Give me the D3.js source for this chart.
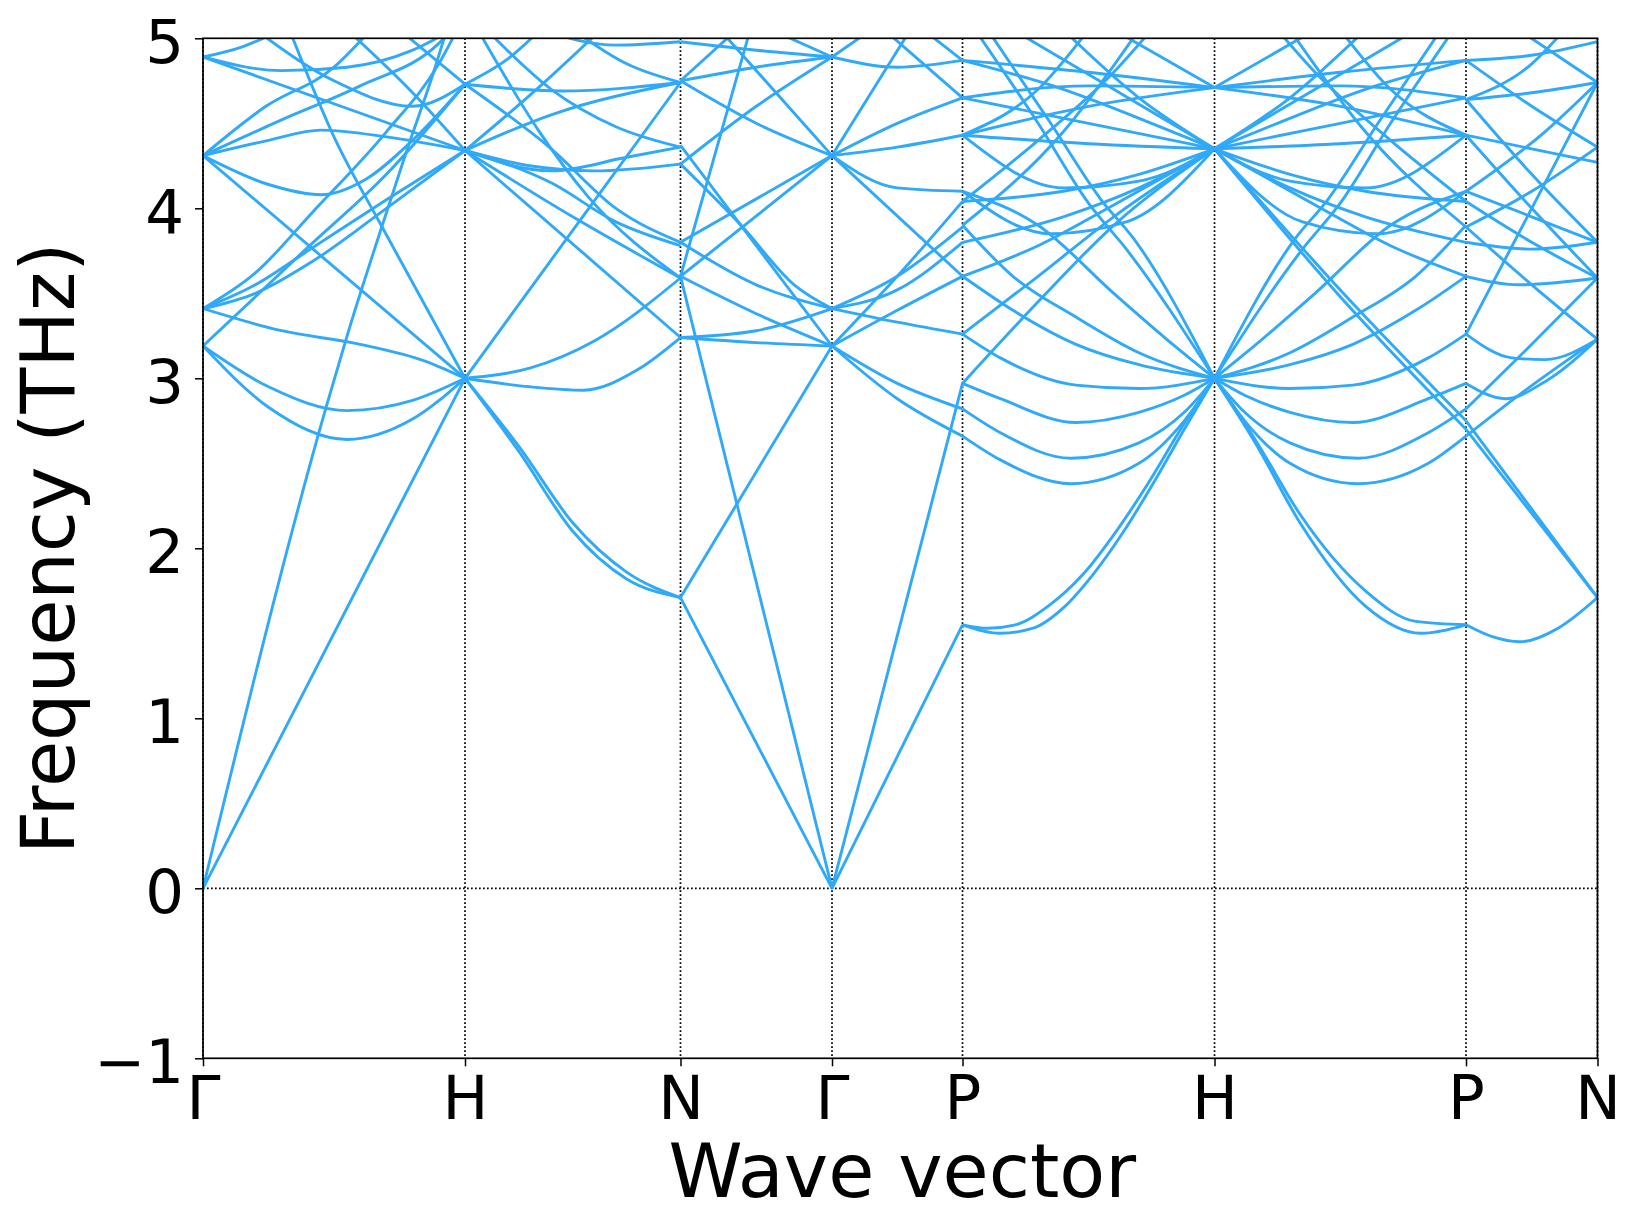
<!DOCTYPE html>
<html><head><meta charset="utf-8">
<script src="https://cdn.jsdelivr.net/npm/d3@7"></script>
<style>body{margin:0;background:#fff} text{font-family:"DejaVu Sans",sans-serif;fill:#000}</style>
</head><body><svg id="c" width="1637" height="1229"></svg>
<script>
// High-symmetry points (labels and path positions)
const kLabels = ["Γ","H","N","Γ","P","H","P","N"];
const kPos = [0, 1.0, 1.8225, 2.4008, 2.8989, 3.8607, 4.8206, 5.3225];
const yTicks = [-1,0,1,2,3,4,5];

// Bands per path segment: each band = [t (fraction along segment), frequency THz]
const bandsGH = [
 [[0,0],[1,3.0]],
 [[0,0],[0.47,2.83],[0.55,3.25],[0.68,3.88],[0.78,4.35],[0.88,4.8],[0.93,5.05]],
 [[0.33,5.05],[0.5,4.42],[0.68,3.9],[1,3.0]],
 [[0,4.31],[1,3.0]],
 [[0,3.41],[0.3,3.28],[0.6,3.2],[0.85,3.1],[1,3.0]],
 [[0,3.19],[0.25,2.83],[0.55,2.64],[0.8,2.76],[1,3.0]],
 [[0,3.19],[0.25,2.95],[0.55,2.81],[0.8,2.87],[1,3.0]],
 [[0,3.19],[0.4,3.77],[0.7,4.2],[1,4.73]],
 [[0,3.41],[0.2,3.5],[0.42,3.69],[0.7,4.0],[1,4.34]],
 [[0,3.41],[0.2,3.55],[0.42,3.77],[0.7,4.05],[1,4.34]],
 [[0,3.41],[0.2,3.62],[0.42,3.98],[0.7,4.45],[0.9,4.85],[0.97,5.05]],
 [[0,4.31],[0.25,4.14],[0.45,4.08],[0.62,4.17],[0.8,4.4],[1,4.73]],
 [[0,4.31],[0.25,4.4],[0.45,4.46],[0.7,4.42],[1,4.34]],
 [[0,4.31],[0.24,4.6],[0.5,4.83],[0.64,5.05]],
 [[0,4.31],[0.3,4.52],[0.6,4.72],[0.9,4.97],[0.95,5.05]],
 [[0,4.89],[1,4.34]],
 [[0,4.89],[0.3,4.81],[0.55,4.83],[0.8,4.93],[0.95,5.05]],
 [[0,4.89],[0.15,4.95],[0.3,5.05]],
 [[0.55,5.05],[0.8,4.68],[1,4.34]],
 [[0.75,5.05],[1,4.73]],
 [[0.2,5.05],[0.5,4.75],[0.8,4.6],[1,4.73]]
];
const bandsHN = [
 [[0,3.0],[0.25,2.6],[0.5,2.15],[0.75,1.86],[1,1.71]],
 [[0,3.0],[0.25,2.57],[0.5,2.1],[0.75,1.82],[1,1.71]],
 [[0,3.0],[0.3,2.95],[0.55,2.93],[0.8,3.05],[1,3.24]],
 [[0,3.0],[0.3,3.06],[0.6,3.22],[1,3.59]],
 [[0,3.0],[0.5,3.87],[1,4.74]],
 [[0,4.34],[1,3.24]],
 [[0,4.34],[0.5,3.95],[1,3.59]],
 [[0,4.34],[0.4,4.15],[0.7,3.92],[1,3.78]],
 [[0,4.34],[0.3,4.25],[0.6,4.22],[1,4.26]],
 [[0,4.34],[0.4,4.22],[0.75,4.3],[1,4.36]],
 [[0,4.34],[0.4,4.55],[1,4.74]],
 [[0,4.34],[0.35,4.72],[0.63,5.05]],
 [[0,4.73],[0.45,4.69],[1,4.74]],
 [[0,4.73],[0.4,4.35],[0.7,4.0],[1,3.8]],
 [[0.06,5.05],[0.34,4.46],[0.57,4.07],[1,3.59]],
 [[0,4.73],[0.2,4.88],[0.35,5.05]],
 [[0.5,5.05],[0.75,4.85],[1,4.74]],
 [[0.35,5.05],[0.7,4.96],[1,4.98]],
 [[0.1,5.05],[0.4,4.7],[0.7,4.48],[1,4.36]]
];
const bandsNG = [
 [[0,1.71],[1,0]],
 [[0,1.71],[1,3.19]],
 [[0,3.6],[1,0]],
 [[0,3.6],[0.46,5.05]],
 [[0,3.24],[0.5,3.21],[1,3.19]],
 [[0,3.24],[0.5,3.28],[1,3.41]],
 [[0,3.6],[0.5,3.38],[1,3.19]],
 [[0,3.8],[0.5,3.55],[1,3.41]],
 [[0,3.6],[1,4.31]],
 [[0,3.8],[1,4.31]],
 [[0,4.26],[0.4,3.9],[0.75,3.55],[1,3.41]],
 [[0,4.37],[1,3.19]],
 [[0,4.75],[0.5,4.5],[1,4.31]],
 [[0,4.75],[0.5,4.83],[1,4.89]],
 [[0.6,5.05],[1,4.89]],
 [[0.26,5.05],[1,4.31]],
 [[0,4.75],[0.37,5.05]],
 [[0,4.26],[0.5,4.6],[1,4.89]],
 [[0,4.98],[0.5,4.93],[1,4.89]]
];
const bandsGP = [
 [[0,0],[1,1.55]],
 [[0,0],[1,2.97]],
 [[0,3.19],[0.5,2.88],[1,2.66]],
 [[0,3.19],[0.5,2.97],[1,2.82]],
 [[0,3.41],[0.5,3.33],[1,3.26]],
 [[0,3.19],[0.5,3.4],[1,3.6]],
 [[0,3.41],[0.5,3.52],[1,3.80]],
 [[0,3.41],[0.5,3.6],[1,3.89]],
 [[0,3.19],[0.5,3.6],[1,4.04]],
 [[0,4.31],[1,3.6]],
 [[0,4.31],[0.5,4.12],[1,4.10]],
 [[0,4.31],[0.5,4.36],[1,4.43]],
 [[0,4.31],[0.5,4.5],[1,4.65]],
 [[0,4.31],[0.6,5.05]],
 [[0,4.89],[0.5,4.83],[1,4.87]],
 [[0,4.89],[0.3,5.05]],
 [[0.4,5.05],[1,4.65]],
 [[0.7,5.05],[1,4.87]]
];
const bandsPH = [
 [[0,1.55],[0.1,1.53],[0.21,1.55],[0.34,1.66],[0.48,1.85],[0.61,2.1],[0.74,2.39],[0.87,2.71],[1,3.0]],
 [[0,1.55],[0.15,1.5],[0.28,1.53],[0.4,1.65],[0.52,1.85],[0.64,2.1],[0.76,2.39],[0.88,2.7],[1,3.0]],
 [[0,2.66],[0.15,2.52],[0.43,2.38],[0.7,2.5],[0.88,2.75],[1,3.0]],
 [[0,2.82],[0.15,2.68],[0.43,2.53],[0.7,2.62],[0.88,2.8],[1,3.0]],
 [[0,2.97],[0.15,2.88],[0.45,2.74],[0.7,2.8],[0.88,2.9],[1,3.0]],
 [[0,3.26],[0.15,3.12],[0.45,2.96],[0.7,2.94],[1,3.0]],
 [[0,3.6],[0.2,3.4],[0.45,3.2],[0.7,3.08],[1,3.0]],
 [[0,3.9],[0.2,3.6],[0.45,3.36],[0.7,3.15],[1,3.0]],
 [[0.05,5.05],[0.3,4.5],[0.5,4.03],[0.65,3.76],[1,3.0]],
 [[0.1,5.05],[0.35,4.5],[0.55,4.05],[0.68,3.82],[1,3.0]],
 [[0,4.10],[0.3,3.9],[0.6,3.5],[0.85,3.18],[1,3.0]],
 [[0,2.97],[0.3,3.45],[0.6,3.9],[1,4.35]],
 [[0,3.26],[0.3,3.6],[0.6,3.95],[1,4.35]],
 [[0,3.6],[0.3,3.78],[0.6,4.02],[1,4.35]],
 [[0,3.8],[0.4,3.95],[0.7,4.12],[1,4.35]],
 [[0,4.04],[0.4,4.1],[0.7,4.2],[1,4.35]],
 [[0,4.10],[0.35,3.85],[0.65,3.92],[1,4.35]],
 [[0,4.43],[0.4,4.12],[0.7,4.16],[1,4.35]],
 [[0,4.87],[0.4,4.7],[0.75,4.5],[1,4.35]],
 [[0,4.65],[0.5,4.5],[1,4.35]],
 [[0,4.43],[0.5,4.38],[1,4.35]],
 [[0.2,5.05],[0.6,4.7],[1,4.35]],
 [[0.4,5.05],[0.7,4.65],[1,4.35]],
 [[0,4.65],[0.5,4.72],[1,4.71]],
 [[0,4.43],[0.5,4.6],[1,4.71]],
 [[0.6,5.05],[1,4.71]],
 [[0,4.87],[0.5,4.8],[1,4.71]],
 [[0,4.04],[0.3,4.4],[0.6,4.8],[0.75,5.05]],
 [[0,3.9],[0.4,4.45],[0.7,5.05]],
 [[0,4.43],[0.3,4.7],[0.5,5.05]]
];
const bandsHP = [
 [[0,3.0],[0.17,2.6],[0.34,2.15],[0.6,1.66],[0.82,1.50],[1,1.55]],
 [[0,3.0],[0.17,2.62],[0.34,2.2],[0.6,1.75],[0.8,1.57],[1,1.55]],
 [[0,3.0],[0.12,2.75],[0.3,2.5],[0.57,2.38],[0.85,2.5],[1,2.66]],
 [[0,3.0],[0.12,2.8],[0.3,2.62],[0.57,2.53],[0.85,2.68],[1,2.82]],
 [[0,3.0],[0.12,2.9],[0.3,2.8],[0.55,2.74],[0.85,2.88],[1,2.97]],
 [[0,3.0],[0.3,2.94],[0.55,2.96],[0.85,3.12],[1,3.26]],
 [[0,3.0],[0.3,3.08],[0.55,3.2],[0.8,3.4],[1,3.6]],
 [[0,3.0],[0.3,3.15],[0.55,3.36],[0.8,3.6],[1,3.9]],
 [[0,3.0],[0.35,3.76],[0.5,4.03],[0.7,4.5],[0.95,5.05]],
 [[0,3.0],[0.32,3.82],[0.45,4.05],[0.65,4.5],[0.9,5.05]],
 [[0,3.0],[0.15,3.18],[0.4,3.5],[0.7,3.9],[1,4.10]],
 [[0,4.35],[0.5,3.52],[1,2.75]],
 [[0,4.35],[0.5,3.48],[1,2.70]],
 [[0,4.35],[0.4,4.02],[0.7,3.78],[1,3.6]],
 [[0,4.35],[0.3,4.12],[0.6,3.95],[1,3.8]],
 [[0,4.35],[0.3,4.2],[0.6,4.1],[1,4.04]],
 [[0,4.35],[0.35,3.92],[0.65,3.85],[1,4.10]],
 [[0,4.35],[0.3,4.16],[0.6,4.12],[1,4.43]],
 [[0,4.35],[0.25,4.5],[0.6,4.7],[1,4.87]],
 [[0,4.35],[0.5,4.5],[1,4.65]],
 [[0,4.35],[0.5,4.38],[1,4.43]],
 [[0,4.35],[0.4,4.7],[0.8,5.05]],
 [[0,4.35],[0.3,4.65],[0.6,5.05]],
 [[0,4.71],[0.5,4.72],[1,4.65]],
 [[0,4.71],[0.5,4.6],[1,4.43]],
 [[0,4.71],[0.4,5.05]],
 [[0,4.71],[0.5,4.8],[1,4.87]],
 [[0.25,5.05],[0.4,4.8],[0.7,4.4],[1,4.04]],
 [[0.3,5.05],[0.6,4.45],[1,3.89]],
 [[0.5,5.05],[0.7,4.7],[1,4.43]]
];
const bandsPN = [
 [[0,1.55],[0.2,1.48],[0.41,1.45],[0.7,1.53],[1,1.71]],
 [[0,2.75],[1,1.71]],
 [[0,2.70],[1,1.71]],
 [[0,2.66],[0.4,2.9],[1,3.23]],
 [[0,2.97],[0.3,2.88],[0.6,2.98],[1,3.23]],
 [[0,3.26],[0.35,3.12],[0.6,3.11],[1,3.23]],
 [[0,2.82],[0.5,3.2],[1,3.59]],
 [[0,3.6],[0.4,3.55],[1,3.59]],
 [[0,3.80],[0.5,3.76],[1,3.80]],
 [[0,4.10],[0.5,3.95],[1,3.80]],
 [[0,3.89],[0.5,4.1],[1,4.36]],
 [[0,3.89],[0.5,3.55],[1,3.23]],
 [[0,4.43],[0.5,4.35],[1,4.27]],
 [[0,4.64],[0.5,4.68],[1,4.74]],
 [[0,4.10],[0.6,4.45],[1,4.74]],
 [[0,4.87],[0.5,4.9],[1,4.98]],
 [[0,3.26],[0.5,4.0],[1,4.74]],
 [[0,4.04],[0.5,3.8],[1,3.59]],
 [[0,4.43],[0.5,4.0],[1,3.59]],
 [[0,4.64],[0.5,4.2],[1,3.8]],
 [[0,4.87],[0.5,4.6],[1,4.36]],
 [[0.4,5.05],[1,4.74]],
 [[0,4.64],[0.5,4.85],[0.75,5.05]]
];
const segments = [bandsGH, bandsHN, bandsNG, bandsGP, bandsPH, bandsHP, bandsPN];

const L = 203, R = 1597.5, T = 38.3, B = 1058.3;
const svg = d3.select("#c");
const x = d3.scaleLinear().domain([kPos[0], kPos[kPos.length-1]]).range([L, R]);
const y = d3.scaleLinear().domain([-1, 5]).range([B, T]);

svg.append("defs").append("clipPath").attr("id","clip")
  .append("rect").attr("x",L).attr("y",T).attr("width",R-L).attr("height",B-T);

// dotted guides
const g0 = svg.append("g");
g0.selectAll("line.v").data(kPos).join("line")
  .attr("x1",d=>x(d)).attr("x2",d=>x(d)).attr("y1",T).attr("y2",B)
  .attr("stroke","#000").attr("stroke-width",1.7).attr("stroke-dasharray","1.7,2.3");
g0.append("line").attr("x1",L).attr("x2",R).attr("y1",y(0)).attr("y2",y(0))
  .attr("stroke","#000").attr("stroke-width",1.7).attr("stroke-dasharray","1.7,2.3");

// bands
const line = d3.line().x(d=>x(d[0])).y(d=>y(d[1])).curve(d3.curveMonotoneX);
const gb = svg.append("g").attr("clip-path","url(#clip)");
segments.forEach((seg,i)=>{
  const a = kPos[i], b = kPos[i+1];
  seg.forEach(band=>{
    const pts = band.map(p=>[a + p[0]*(b-a), p[1]]);
    gb.append("path").attr("d", line(pts)).attr("fill","none")
      .attr("stroke","#2fa9f8").attr("stroke-width",2.9).attr("stroke-linejoin","round");
  });
});

// frame
svg.append("rect").attr("x",L).attr("y",T).attr("width",R-L).attr("height",B-T)
  .attr("fill","none").attr("stroke","#000").attr("stroke-width",1.7);

// axes
const ax = svg.append("g").attr("transform",`translate(${L},0)`)
  .call(d3.axisLeft(y).tickValues(yTicks).tickSize(8).tickPadding(11)
    .tickFormat(d => d < 0 ? "\u2212" + Math.abs(d) : String(d)));
ax.select(".domain").remove();
ax.selectAll("line").attr("stroke","#000").attr("stroke-width",1.5);
ax.selectAll("text").attr("font-size",61).attr("dy","0.4em").style("font-family","DejaVu Sans");

const bx = svg.append("g").attr("transform",`translate(0,${B})`)
  .call(d3.axisBottom(x).tickValues(kPos).tickSize(8).tickPadding(9)
    .tickFormat((d,i)=>kLabels[i]));
bx.select(".domain").remove();
bx.selectAll("line").attr("stroke","#000").attr("stroke-width",1.5);
bx.selectAll("text").attr("font-size",61).style("font-family","DejaVu Sans");

svg.append("text").attr("x",(L+R)/2 + 2).attr("y",1197).attr("text-anchor","middle")
  .attr("font-size",75).text("Wave vector");
svg.append("text").attr("transform",`translate(74,${(T+B)/2}) rotate(-90)`)
  .attr("text-anchor","middle").attr("font-size",75).text("Frequency (THz)");
</script></body></html>
